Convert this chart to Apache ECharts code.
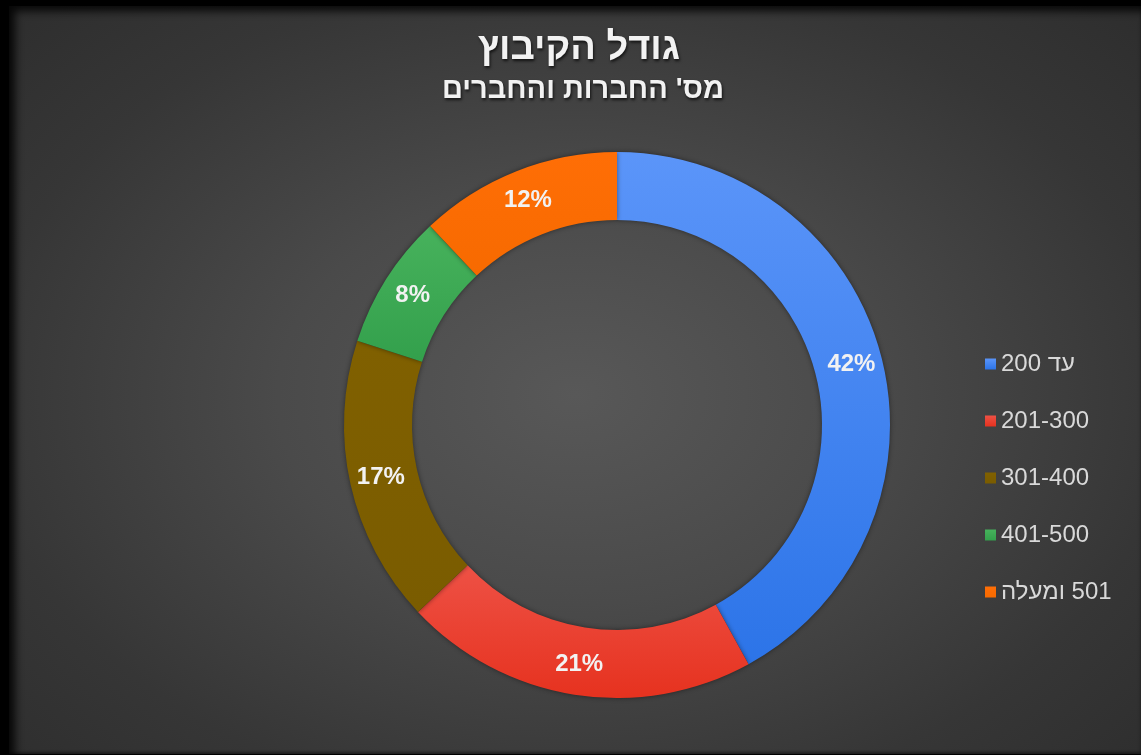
<!DOCTYPE html>
<html>
<head>
<meta charset="utf-8">
<script src="https://cdn.jsdelivr.net/npm/echarts@6/dist/echarts.min.js"></script>
<style>
  html, body { margin: 0; padding: 0; background: #000; }
  #wrap { position: absolute; left: 0; top: 0; width: 1141px; height: 755px; background: #000; overflow: hidden; }
  #chart { position: absolute; left: 9px; top: 6px; width: 1132px; height: 748px;
    background: radial-gradient(ellipse 75% 80% at 50% 52%, #585858 0%, #4a4a4a 35%, #363636 70%, #2b2b2b 100%); }
  #shade { position: absolute; left: 9px; top: 6px; width: 1132px; height: 748px; pointer-events: none;
    box-shadow: inset 6px 5px 8px rgba(0,0,0,0.85), inset 0 -2px 3px rgba(0,0,0,0.4); }
</style>
</head>
<body>
<div id="wrap"><div id="chart" dir="rtl"></div><div id="shade"></div></div>
<script>
var titleText = 'גודל הקיבוץ';
var subtitleText = "מס' החברות והחברים";
var categories = ['עד 200', '201-300', '301-400', '401-500', '501 ומעלה'];
var values = [42, 21, 17, 8, 12];
var colorsTop = ['#5b95f9', '#ee5145', '#806000', '#47b25c', '#ff6e06'];
var colorsBottom = ['#2c74e8', '#e6321f', '#7a5c00', '#33a04c', '#f76a00'];

var chart = echarts.init(document.getElementById('chart'), null, { renderer: 'canvas' });
var fontFam = '"Liberation Sans", Arial, "DejaVu Sans", sans-serif';

var data = categories.map(function (name, i) {
  return {
    name: name,
    value: values[i],
    itemStyle: {
      color: {
        type: 'linear', x: 0, y: 0, x2: 0, y2: 1,
        colorStops: [{ offset: 0, color: colorsTop[i] }, { offset: 1, color: colorsBottom[i] }]
      }
    }
  };
});

chart.setOption({
  backgroundColor: 'transparent',
  animation: false,
  title: [{
    text: titleText,
    left: 565, top: 19, textAlign: 'center',
    textStyle: { color: '#f2f2f2', fontSize: 38, fontWeight: 'bold', fontFamily: fontFam,
      textShadowColor: 'rgba(0,0,0,0.7)', textShadowBlur: 3, textShadowOffsetX: 1, textShadowOffsetY: 2 }
  }, {
    text: subtitleText,
    left: 569, top: 64, textAlign: 'center',
    textStyle: { color: '#f2f2f2', fontSize: 29, fontWeight: 'bold', fontFamily: fontFam,
      textShadowColor: 'rgba(0,0,0,0.7)', textShadowBlur: 3, textShadowOffsetX: 1, textShadowOffsetY: 2 }
  }],
  legend: {
    orient: 'vertical',
    left: 976, top: 346,
    padding: 0,
    itemWidth: 11, itemHeight: 11,
    itemGap: 33,
    icon: 'rect',
    data: categories,
    textStyle: { color: '#d9d9d9', fontSize: 24, lineHeight: 24, fontFamily: fontFam }
  },
  series: [{
    type: 'pie',
    center: [608, 419],
    radius: [205, 273],
    startAngle: 90,
    clockwise: true,
    avoidLabelOverlap: false,
    data: data,
    itemStyle: { shadowBlur: 5, shadowColor: 'rgba(0,0,0,0.45)' },
    label: {
      show: true,
      position: 'inside',
      formatter: '{c}%',
      color: '#f2f2f2',
      fontSize: 24,
      fontWeight: 'bold',
      fontFamily: fontFam
    },
    labelLine: { show: false },
    emphasis: { disabled: true }
  }]
});
</script>
</body>
</html>
